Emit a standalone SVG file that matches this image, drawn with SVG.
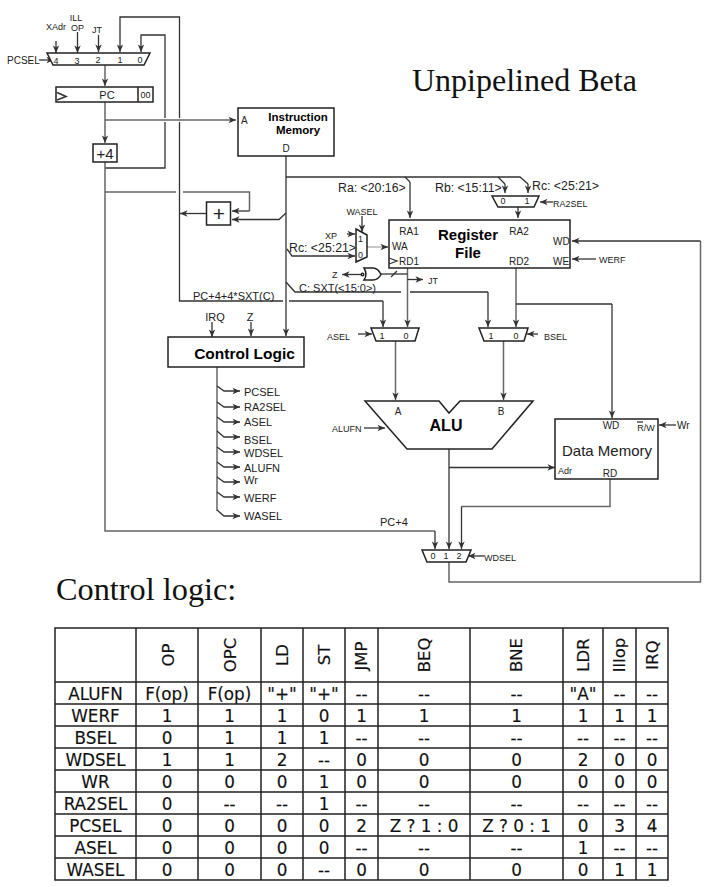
<svg xmlns="http://www.w3.org/2000/svg" width="720" height="887" viewBox="0 0 720 887">
<style>
text{font-family:"Liberation Sans",Arial,sans-serif;fill:#222}
.s9{font-size:9px}.s10{font-size:10px}.s11{font-size:11px}.s12{font-size:12.300px}
.m{text-anchor:middle}
.b{font-weight:bold;fill:#000}
.box{fill:#fff;stroke:#222;stroke-width:1.5}
.w{fill:#fff;stroke:#222;stroke-width:1.5}
.c{fill:none;stroke:#333;stroke-width:1.3}
.g{fill:none;stroke:#666;stroke-width:1.5}
.a{marker-end:url(#arr)}
.t{font-family:"DejaVu Sans",Verdana,sans-serif;font-size:16.800px;text-anchor:middle;fill:#111;stroke:#111;stroke-width:.15}
.h{font-family:"DejaVu Sans",Verdana,sans-serif;font-size:16.500px;text-anchor:middle;fill:#111;stroke:#111;stroke-width:.15}
.tl{fill:none;stroke:#222;stroke-width:1.5}
</style>
<defs>
<marker id="arr" markerWidth="9" markerHeight="8" refX="8" refY="4" orient="auto" markerUnits="userSpaceOnUse"><path d="M0.5 0.8L8 4L0.5 7.2L2.5 4Z" fill="#333"/></marker>
</defs>
<rect width="720" height="887" fill="#fff"/>
<g id="connectors">
<path class="c a" d="M56 41V53"/><path class="c a" d="M77.500 32V53"/><path class="c a" d="M98.500 35V52"/>
<path class="c a" d="M39 60H54"/>
<path class="c a" d="M179.500 118V17H120V52"/>
<path class="c" d="M179.500 122V301H283M289 301H383"/>
<path class="c a" d="M383 301V327"/>
<path class="c a" d="M165 118V35H141V52"/>
<path class="c" d="M165 122V168H105"/>
<path class="g a" d="M105 65V86"/>
<path class="g a" d="M105 102V143"/>
<path class="g a" d="M105 120H236"/>
<path class="g" d="M105 162V531H435"/>
<path class="c a" d="M435 531V549"/>
<path class="g" d="M105 192H176M183 192H249.500V211"/>
<path class="c a" d="M249.500 211H232"/>
<path class="c a" d="M206 213.500H180"/>
<path class="c a" d="M286 213L279 219.500H232"/>
<path class="c a" d="M286 156V336"/>
<path class="c" d="M286 177H520L528 184"/>
<path class="c" d="M405 177L410 182"/>
<path class="c a" d="M410 182V218"/>
<path class="c" d="M498 177L505 184"/>
<path class="c a" d="M505 184V193"/>
<path class="c a" d="M528 184V193"/>
<path class="c a" d="M518 207V218"/>
<path class="c a" d="M553 202H540"/>
<path class="c a" d="M362 216V232"/>
<path class="c a" d="M347 234H355"/>
<path class="c a" d="M287 249L292 256H355"/>
<path style="fill:none;stroke:#aaa;stroke-width:1.300" d="M367 247H382"/>
<path class="c a" d="M382 247H388"/>
<path class="g a" d="M407.500 268V327"/>
<path class="c" d="M407.500 274H381"/>
<path class="c" d="M391 277L397 271"/>
<path class="c a" d="M362 274.500H342"/>
<path class="c a" d="M407.500 279.500H423"/>
<path class="c" d="M286 282L295 292H401M410 292H488"/>
<path class="c a" d="M488 292V327"/>
<path class="g a" d="M516 268V327"/>
<path class="c" d="M516 304H612"/>
<path class="c a" d="M612 304V418"/>
<path class="c a" d="M358 334H372"/>
<path class="c a" d="M538 334H527"/>
<path class="g a" d="M395.500 341V400"/>
<path class="g a" d="M503.500 341V400"/>
<path class="c a" d="M364 428H385"/>
<path class="c a" d="M449 449V549"/>
<path class="c a" d="M449 467.500H555"/>
<path class="g" d="M610 479V506.500H461.500"/>
<path class="c a" d="M461.500 506.500V549"/>
<path class="c a" d="M484 556H468"/>
<path class="g" d="M449 562V582H700.500V241"/>
<path class="c a" d="M700.500 241H572"/>
<path class="c a" d="M596 259H572"/>
<path class="c a" d="M676 425H659"/>
<path class="c a" d="M212 322V337"/>
<path class="c a" d="M251 322V336"/>
<path class="g" d="M217 367V511"/>
<path class="c a" d="M217 386L224 391H240"/>
<path class="c a" d="M217 402L224 407H240"/>
<path class="c a" d="M217 417L224 422H240"/>
<path class="c a" d="M217 431L224 437H240"/>
<path class="c a" d="M217 447L224 452H240"/>
<path class="c a" d="M217 462L224 467H240"/>
<path class="c a" d="M217 477L224 482H240"/>
<path class="c a" d="M217 492L224 497H240"/>
<path class="c a" d="M217 510L224 516H240"/>
</g>
<g id="pc-mux"><path class="w" d="M47 53H150L144 65H53Z"/>
<text class="s9 m" x="56" y="64">4</text><text class="s9 m" x="77" y="64">3</text><text class="s9 m" x="98" y="63">2</text><text class="s9 m" x="120" y="63">1</text><text class="s9 m" x="140" y="63">0</text></g>
<g id="pcsel-labels"><text class="s10" x="7" y="64">PCSEL</text><text class="s9 m" x="56" y="30">XAdr</text><text class="s9 m" x="76" y="21">ILL</text><text class="s9 m" x="77.500" y="31">OP</text><text class="s9 m" x="97" y="33">JT</text></g>
<g id="pc"><rect class="box" x="56" y="87" width="97" height="15"/><path class="box" d="M138 87V102"/><path class="c" style="stroke-width:1.600" d="M57 92.500L66 96.500L57 100"/>
<text class="s11 m" x="107" y="99">PC</text><text class="s9 m" x="145.500" y="98">00</text></g>
<g id="plus4"><rect class="box" x="93" y="144" width="24" height="18"/><text class="m" style="font-size:15px" x="105" y="159">+4</text></g>
<g id="adder"><rect class="box" x="206.500" y="202" width="24" height="23"/><text class="m" style="font-size:21px" x="219" y="221">+</text></g>
<g id="instruction-memory"><rect class="box" x="238" y="108" width="96" height="48"/>
<text class="b m" style="font-size:11.500px" x="298" y="120.500">Instruction</text><text class="b m" style="font-size:11.500px" x="298" y="134">Memory</text><text class="s10" x="241" y="124">A</text><text class="s10 m" x="286" y="152">D</text></g>
<g id="ra2-mux"><path class="w" d="M492 196H539L534 207H498Z"/><text class="s9 m" x="503" y="204">0</text><text class="s9 m" x="527" y="204">1</text></g>
<g id="register-file"><rect class="box" x="389" y="220" width="181" height="48"/>
<path class="c" d="M389 258L397 261L389 264"/>
<text class="s10 m" x="409" y="235">RA1</text><text class="s10 m" x="519" y="235">RA2</text><text class="s10" x="392" y="250">WA</text><text class="s10 m" x="409" y="265">RD1</text><text class="s10 m" x="519" y="265">RD2</text><text class="s10" x="553" y="245">WD</text><text class="s10" x="553" y="265">WE</text>
<text class="b m" style="font-size:15px" x="468" y="240">Register</text><text class="b m" style="font-size:15px" x="468" y="258">File</text></g>
<g id="wa-mux"><path class="w" d="M356 229L367 235V257L356 262Z"/><text class="s9 m" x="360.500" y="242">1</text><text class="s9 m" x="360.500" y="258">0</text></g>
<g id="nor-gate"><path class="w" d="M364 268H373Q378 268 381 274.500Q378 280 373 280H364Q368 274.500 364 268Z"/><circle class="w" cx="362.500" cy="274.500" r="1.300"/></g>
<g id="asel-mux"><path class="w" d="M371 328H419L415 341H376Z"/><text class="s9 m" x="382" y="339">1</text><text class="s9 m" x="406" y="339">0</text></g>
<g id="bsel-mux"><path class="w" d="M479 328H528L524 341H484Z"/><text class="s9 m" x="491" y="339">1</text><text class="s9 m" x="516" y="339">0</text></g>
<g id="alu"><path class="w" d="M365 401H439L449 413L460 401H533L492 449H407Z"/>
<text class="s10 m" x="398" y="415">A</text><text class="s10 m" x="501" y="415">B</text><text class="b m" style="font-size:16px" x="446" y="431">ALU</text></g>
<g id="data-memory"><rect class="box" x="555" y="419" width="103" height="60"/>
<text class="s10 m" x="611" y="429">WD</text><text class="s9 m" x="646" y="431">R/W</text><path class="c" d="M637 422H643"/><text class="m" style="font-size:15px" x="607" y="456">Data Memory</text><text class="s9" x="558" y="474">Adr</text><text class="s10 m" x="610" y="477">RD</text></g>
<g id="wdsel-mux"><path class="w" d="M422 550H471L466 562H427Z"/><text class="s9 m" x="433" y="559">0</text><text class="s9 m" x="446" y="559">1</text><text class="s9 m" x="459" y="559">2</text></g>
<g id="control-logic"><rect class="box" x="168" y="337" width="136" height="30"/><text class="b m" style="font-size:15.500px" x="244.500" y="359">Control Logic</text></g>
<g id="signal-labels">
<text class="s12" x="338" y="192">Ra: &lt;20:16&gt;</text><text class="s12" x="435" y="192">Rb: &lt;15:11&gt;</text><text class="s12" x="532" y="190">Rc: &lt;25:21&gt;</text>
<text class="s9" x="553" y="207">RA2SEL</text><text class="s9 m" x="362" y="215">WASEL</text><text class="s9" x="325" y="239">XP</text><text class="s12" x="289" y="252">Rc: &lt;25:21&gt;</text>
<text class="s9" x="332" y="278">Z</text><text class="s9" x="428" y="284">JT</text><text class="s11" x="299" y="292">C: SXT(&lt;15:0&gt;)</text><text class="s11" x="193" y="300">PC+4+4*SXT(C)</text>
<text class="s9" x="327" y="340">ASEL</text><text class="s9" x="544" y="340">BSEL</text><text class="s9" x="599" y="263">WERF</text><text class="s9" x="332" y="432">ALUFN</text><text class="s10" x="677" y="429">Wr</text>
<text class="s11" x="380" y="526">PC+4</text><text class="s9" x="484" y="561">WDSEL</text>
<text class="s11 m" x="215" y="321">IRQ</text><text class="s11 m" x="250" y="321">Z</text>
<text class="s11" x="244" y="396">PCSEL</text><text class="s11" x="244" y="411">RA2SEL</text><text class="s11" x="244" y="426">ASEL</text><text class="s11" x="244" y="444">BSEL</text><text class="s11" x="244" y="457">WDSEL</text><text class="s11" x="244" y="472">ALUFN</text><text class="s11" x="244" y="484">Wr</text><text class="s11" x="244" y="502">WERF</text><text class="s11" x="244" y="520">WASEL</text>
</g>
<text x="412" y="91" style="font-family:'Liberation Serif',serif;font-size:32px;fill:#111">Unpipelined Beta</text>
<text x="56" y="600" style="font-family:'Liberation Serif',serif;font-size:32.300px;fill:#111">Control logic:</text>
<g id="table">
<path class="tl" d="M55 628H668V880H55ZM136 628V880M198 628V880M261 628V880M303 628V880M345 628V880M378 628V880M470 628V880M563 628V880M603 628V880M636 628V880M55 682H668M55 704H668M55 726H668M55 748H668M55 770H668M55 792H668M55 814H668M55 836H668M55 858H668"/>
<text class="h" transform="translate(174 655) rotate(-90)">OP</text>
<text class="h" transform="translate(236 655) rotate(-90)">OPC</text>
<text class="h" transform="translate(288 655) rotate(-90)">LD</text>
<text class="h" transform="translate(330 655) rotate(-90)">ST</text>
<text class="h" transform="translate(367 656) rotate(-90)">JMP</text>
<text class="h" transform="translate(430 655) rotate(-90)">BEQ</text>
<text class="h" transform="translate(522 655) rotate(-90)">BNE</text>
<text class="h" transform="translate(589 655) rotate(-90)">LDR</text>
<text class="h" transform="translate(625 655) rotate(-90)">Illop</text>
<text class="h" transform="translate(658 655) rotate(-90)">IRQ</text>
<text class="t" x="95.500" y="700">ALUFN</text><text class="t" x="167" y="700">F(op)</text><text class="t" x="229.500" y="700">F(op)</text><text class="t" x="282" y="700">"+"</text><text class="t" x="324" y="700">"+"</text><text class="t" x="361.500" y="700">--</text><text class="t" x="424" y="700">--</text><text class="t" x="516.500" y="700">--</text><text class="t" x="583" y="700">"A"</text><text class="t" x="619.500" y="700">--</text><text class="t" x="652" y="700">--</text>
<text class="t" x="95.500" y="722">WERF</text><text class="t" x="167" y="722">1</text><text class="t" x="229.500" y="722">1</text><text class="t" x="282" y="722">1</text><text class="t" x="324" y="722">0</text><text class="t" x="361.500" y="722">1</text><text class="t" x="424" y="722">1</text><text class="t" x="516.500" y="722">1</text><text class="t" x="583" y="722">1</text><text class="t" x="619.500" y="722">1</text><text class="t" x="652" y="722">1</text>
<text class="t" x="95.500" y="744">BSEL</text><text class="t" x="167" y="744">0</text><text class="t" x="229.500" y="744">1</text><text class="t" x="282" y="744">1</text><text class="t" x="324" y="744">1</text><text class="t" x="361.500" y="744">--</text><text class="t" x="424" y="744">--</text><text class="t" x="516.500" y="744">--</text><text class="t" x="583" y="744">--</text><text class="t" x="619.500" y="744">--</text><text class="t" x="652" y="744">--</text>
<text class="t" x="95.500" y="766">WDSEL</text><text class="t" x="167" y="766">1</text><text class="t" x="229.500" y="766">1</text><text class="t" x="282" y="766">2</text><text class="t" x="324" y="766">--</text><text class="t" x="361.500" y="766">0</text><text class="t" x="424" y="766">0</text><text class="t" x="516.500" y="766">0</text><text class="t" x="583" y="766">2</text><text class="t" x="619.500" y="766">0</text><text class="t" x="652" y="766">0</text>
<text class="t" x="95.500" y="788">WR</text><text class="t" x="167" y="788">0</text><text class="t" x="229.500" y="788">0</text><text class="t" x="282" y="788">0</text><text class="t" x="324" y="788">1</text><text class="t" x="361.500" y="788">0</text><text class="t" x="424" y="788">0</text><text class="t" x="516.500" y="788">0</text><text class="t" x="583" y="788">0</text><text class="t" x="619.500" y="788">0</text><text class="t" x="652" y="788">0</text>
<text class="t" x="95.500" y="810">RA2SEL</text><text class="t" x="167" y="810">0</text><text class="t" x="229.500" y="810">--</text><text class="t" x="282" y="810">--</text><text class="t" x="324" y="810">1</text><text class="t" x="361.500" y="810">--</text><text class="t" x="424" y="810">--</text><text class="t" x="516.500" y="810">--</text><text class="t" x="583" y="810">--</text><text class="t" x="619.500" y="810">--</text><text class="t" x="652" y="810">--</text>
<text class="t" x="95.500" y="832">PCSEL</text><text class="t" x="167" y="832">0</text><text class="t" x="229.500" y="832">0</text><text class="t" x="282" y="832">0</text><text class="t" x="324" y="832">0</text><text class="t" x="361.500" y="832">2</text><text class="t" x="424" y="832">Z ? 1 : 0</text><text class="t" x="516.500" y="832">Z ? 0 : 1</text><text class="t" x="583" y="832">0</text><text class="t" x="619.500" y="832">3</text><text class="t" x="652" y="832">4</text>
<text class="t" x="95.500" y="854">ASEL</text><text class="t" x="167" y="854">0</text><text class="t" x="229.500" y="854">0</text><text class="t" x="282" y="854">0</text><text class="t" x="324" y="854">0</text><text class="t" x="361.500" y="854">--</text><text class="t" x="424" y="854">--</text><text class="t" x="516.500" y="854">--</text><text class="t" x="583" y="854">1</text><text class="t" x="619.500" y="854">--</text><text class="t" x="652" y="854">--</text>
<text class="t" x="95.500" y="876">WASEL</text><text class="t" x="167" y="876">0</text><text class="t" x="229.500" y="876">0</text><text class="t" x="282" y="876">0</text><text class="t" x="324" y="876">--</text><text class="t" x="361.500" y="876">0</text><text class="t" x="424" y="876">0</text><text class="t" x="516.500" y="876">0</text><text class="t" x="583" y="876">0</text><text class="t" x="619.500" y="876">1</text><text class="t" x="652" y="876">1</text>
</g>
</svg>
